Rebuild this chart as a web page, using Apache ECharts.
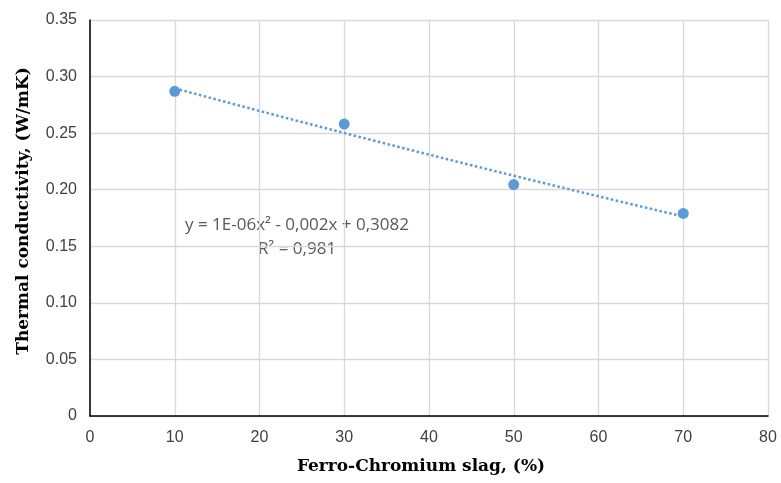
<!DOCTYPE html>
<html>
<head>
<meta charset="utf-8">
<script src="https://cdn.jsdelivr.net/npm/echarts@6/dist/echarts.min.js"></script>
<style>
  html, body { margin: 0; padding: 0; background: #fff; }
  #chart { width: 781px; height: 483px; }
</style>
</head>
<body>
<div id="chart"></div>
<script>
// Thermal conductivity against Ferro-Chromium slag content
const slagPercent = [10, 30, 50, 70];
const conductivity = [0.287, 0.258, 0.2045, 0.179];
const xTicks = [0, 10, 20, 30, 40, 50, 60, 70, 80];
const yTicks = [0, 0.05, 0.10, 0.15, 0.20, 0.25, 0.30, 0.35];
const equationText = 'y = 1E-06x² - 0,002x + 0,3082';
const r2Text = 'R² = 0,981';

// Least-squares polynomial (degree 2) trend through the measured points
function polyFit(xs, ys, deg) {
  const n = deg + 1;
  const A = Array.from({ length: n }, () => new Array(n + 1).fill(0));
  for (let i = 0; i < xs.length; i++) {
    for (let r = 0; r < n; r++) {
      for (let c = 0; c < n; c++) A[r][c] += Math.pow(xs[i], r + c);
      A[r][n] += ys[i] * Math.pow(xs[i], r);
    }
  }
  for (let p = 0; p < n; p++) {
    let best = p;
    for (let r = p + 1; r < n; r++) if (Math.abs(A[r][p]) > Math.abs(A[best][p])) best = r;
    [A[p], A[best]] = [A[best], A[p]];
    for (let r = 0; r < n; r++) {
      if (r === p) continue;
      const f = A[r][p] / A[p][p];
      for (let c = p; c <= n; c++) A[r][c] -= f * A[p][c];
    }
  }
  return A.map((row, i) => row[n] / row[i]);
}
const coef = polyFit(slagPercent, conductivity, 2);
const trend = [];
const x0 = slagPercent[0], x1 = slagPercent[slagPercent.length - 1];
for (let k = 0; k <= 60; k++) {
  const x = x0 + (x1 - x0) * k / 60;
  trend.push([x, coef[0] + coef[1] * x + coef[2] * x * x]);
}

const chart = echarts.init(document.getElementById('chart'));
const gridColor = '#d9d9d9';
const tickFont = { fontFamily: 'Liberation Sans', fontSize: 16, color: '#404040' };
const titleFont = { fontFamily: 'DejaVu Serif', fontWeight: 'bold', fontSize: 17, fill: '#000' };
const eqFont = { fontFamily: 'Open Sans', fontSize: 17, fill: '#595959' };

chart.setOption({
  animation: false,
  backgroundColor: '#fff',
  grid: { left: 90, top: 20, right: 13, bottom: 67, containLabel: false },
  xAxis: {
    type: 'value', min: xTicks[0], max: xTicks[xTicks.length - 1], interval: 10,
    axisLine: { show: true, onZero: false, lineStyle: { color: '#000', width: 1.5 } },
    axisTick: { show: false },
    axisLabel: Object.assign({ margin: 14 }, tickFont),
    splitLine: { show: true, lineStyle: { color: gridColor, width: 1.3 } }
  },
  yAxis: {
    type: 'value', min: yTicks[0], max: yTicks[yTicks.length - 1], interval: 0.05,
    axisLine: { show: true, lineStyle: { color: '#000', width: 1.5 } },
    axisTick: { show: false },
    axisLabel: Object.assign({
      margin: 13,
      formatter: v => (v === 0 ? '0' : v.toFixed(2))
    }, tickFont),
    splitLine: { show: true, lineStyle: { color: gridColor, width: 1.3 } }
  },
  series: [
    {
      type: 'line', data: trend, showSymbol: false, symbol: 'none', z: 2,
      lineStyle: { color: '#5b9bd5', width: 2.5, type: [2.5, 2.5], cap: 'butt' }
    },
    {
      type: 'scatter', data: slagPercent.map((x, i) => [x, conductivity[i]]),
      symbolSize: 11, z: 3,
      itemStyle: { color: '#5b9bd5', opacity: 1 }
    }
  ],
  graphic: [
    {
      type: 'text', x: 24, y: 211, rotation: Math.PI / 2,
      style: Object.assign({ text: 'Thermal conductivity, (W/mK)', align: 'center', verticalAlign: 'middle' }, titleFont)
    },
    {
      type: 'text', x: 421, y: 467,
      style: Object.assign({ text: 'Ferro-Chromium slag, (%)', align: 'center', verticalAlign: 'middle' }, titleFont)
    },
    {
      type: 'text', x: 297, y: 225,
      style: Object.assign({ text: equationText, align: 'center', verticalAlign: 'middle' }, eqFont)
    },
    {
      type: 'text', x: 297, y: 249,
      style: Object.assign({ text: r2Text, align: 'center', verticalAlign: 'middle' }, eqFont)
    }
  ]
});
</script>
</body>
</html>
